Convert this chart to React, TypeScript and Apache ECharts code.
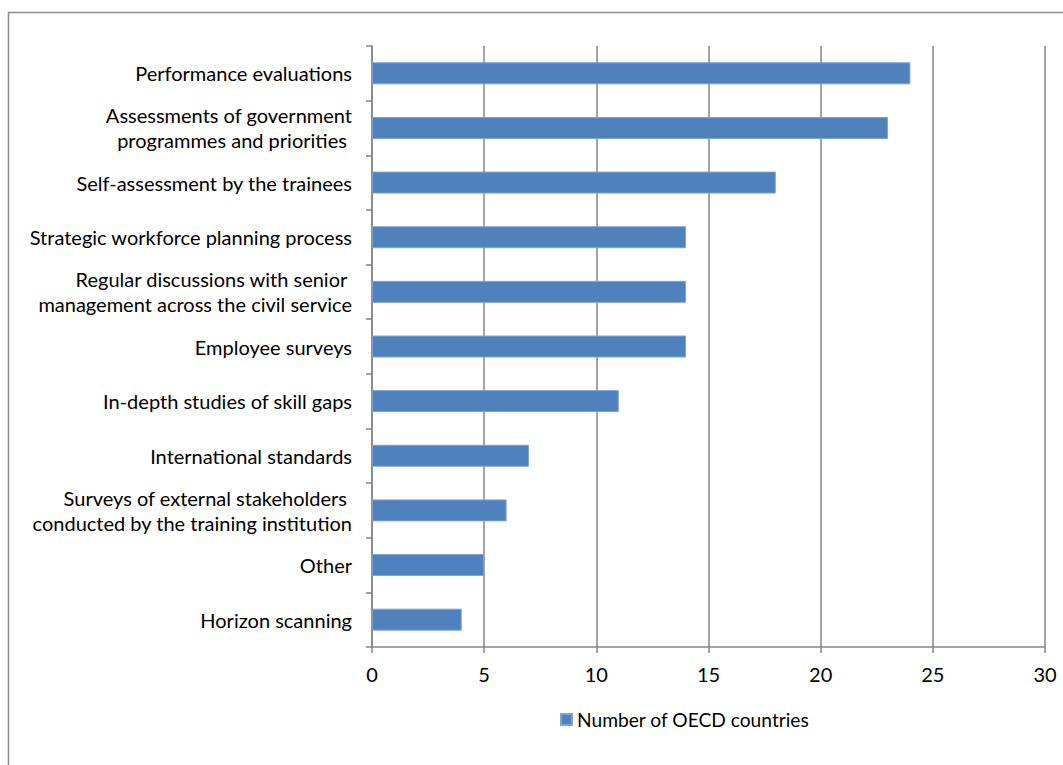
import React, { useEffect, useRef } from "react";
import * as echarts from "echarts";

const categories = [
  "Performance evaluations",
  "Assessments of government\nprogrammes and priorities ",
  "Self-assessment by the trainees",
  "Strategic workforce planning process",
  "Regular discussions with senior \nmanagement across the civil service",
  "Employee surveys",
  "In-depth studies of skill gaps",
  "International standards",
  "Surveys of external stakeholders \nconducted by the training institution",
  "Other",
  "Horizon scanning",
];
const values = [24, 23, 18, 14, 14, 14, 11, 7, 6, 5, 4];
const seriesName = "Number of OECD countries";

const FONT = "Lato";

export default function App() {
  const ref = useRef<HTMLDivElement>(null);
  useEffect(() => {
    const chart = echarts.init(ref.current!, null, { renderer: "svg" });
    chart.setOption({
      animation: false,
      textStyle: { fontFamily: FONT },
      grid: { left: 372, top: 46, right: 18, bottom: 118, containLabel: false },
      graphic: [
        {
          type: "rect",
          shape: { x: 8.5, y: 12.5, width: 1100, height: 800 },
          style: { fill: "none", stroke: "#8c8c8c", lineWidth: 1.5 },
          silent: true,
        },
      ],
      legend: {
        data: [seriesName],
        left: 555,
        top: 705,
        itemWidth: 11,
        itemHeight: 11,
        itemGap: 4,
        icon: "rect",
        textStyle: { fontFamily: FONT, fontSize: 19.2, color: "#000" },
      },
      xAxis: {
        type: "value",
        min: 0,
        max: 30,
        interval: 5,
        axisLine: { show: true, lineStyle: { color: "#868686", width: 1.5 } },
        axisTick: { show: true, length: 6, lineStyle: { color: "#868686", width: 1.5 } },
        axisLabel: { fontFamily: FONT, fontSize: 20, color: "#000", margin: 17 },
        splitLine: { show: true, lineStyle: { color: "#868686", width: 1.5 } },
      },
      yAxis: {
        type: "category",
        data: categories,
        inverse: true,
        axisLine: { show: true, lineStyle: { color: "#868686", width: 1.5 } },
        axisTick: { show: true, length: 6, alignWithLabel: false, lineStyle: { color: "#868686", width: 1.5 } },
        axisLabel: {
          fontFamily: FONT,
          fontSize: 20,
          color: "#000",
          margin: 20,
          lineHeight: 25,
          align: "right",
          interval: 0,
        },
        splitLine: { show: false },
      },
      series: [
        {
          name: seriesName,
          type: "bar",
          data: values,
          barWidth: 22,
          itemStyle: { color: "#4F81BD", borderColor: "#7fa3d0", borderWidth: 1 },
        },
      ],
    });
    return () => chart.dispose();
  }, []);
  return (
    <div
      ref={ref}
      style={{ position: "absolute", left: 0, top: 0, width: 1063, height: 765, background: "#fff" }}
    />
  );
}
